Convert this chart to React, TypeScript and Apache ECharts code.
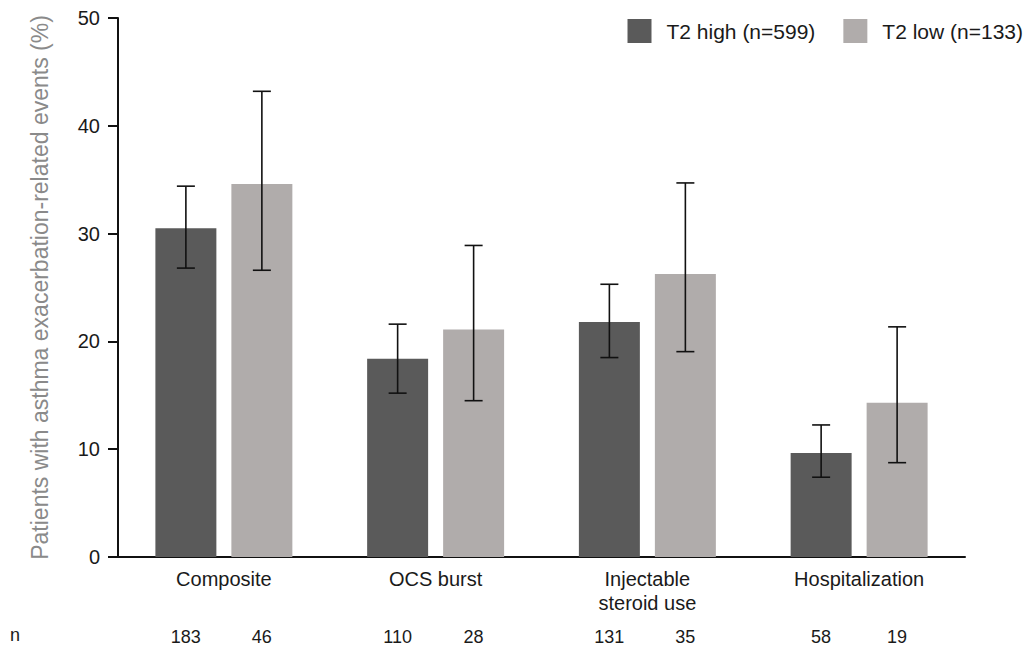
import React, { useEffect, useRef } from "react";
import * as echarts from "echarts";

const categories = ["Composite", "OCS burst", "Injectable\nsteroid use", "Hospitalization"];
const seriesNames = ["T2 high (n=599)", "T2 low (n=133)"];
const highValues = [30.5, 18.4, 21.8, 9.65];
const highLow = [26.8, 15.2, 18.5, 7.4];
const highHigh = [34.4, 21.6, 25.3, 12.25];
const lowValues = [34.6, 21.1, 26.25, 14.3];
const lowLow = [26.6, 14.5, 19.05, 8.75];
const lowHigh = [43.2, 28.9, 34.7, 21.35];
const highN = ["183", "110", "131", "58"];
const lowN = ["46", "28", "35", "19"];
const yTicks = [0, 10, 20, 30, 40, 50];

const DARK = "#5a5a5a";
const LIGHT = "#b0acab";
const BAR_W = 0.288;
const BAR_GAP = 0.246;
const FONT = "Liberation Sans, Arial, sans-serif";

export default function App() {
  const ref = useRef<HTMLDivElement>(null);
  useEffect(() => {
    if (!ref.current) return;
    const chart = echarts.init(ref.current, undefined, { renderer: "svg" });
    const offsetFrac = (BAR_W * (1 + BAR_GAP)) / 2;

    const errSeries = (lows: number[], highs: number[], sign: number) => ({
      type: "custom",
      silent: true,
      z: 5,
      data: lows.map((l, i) => [i, l, highs[i]]),
      renderItem: (params: any, api: any) => {
        const idx = api.value(0);
        const band = api.size([1, 0])[0];
        const pLow = api.coord([idx, api.value(1)]);
        const pHigh = api.coord([idx, api.value(2)]);
        const x = pLow[0] + sign * band * offsetFrac;
        const cap = 9;
        const style = { stroke: "#111", lineWidth: 1.6 };
        return {
          type: "group",
          children: [
            { type: "line", shape: { x1: x, y1: pLow[1], x2: x, y2: pHigh[1] }, style },
            { type: "line", shape: { x1: x - cap, y1: pLow[1], x2: x + cap, y2: pLow[1] }, style },
            { type: "line", shape: { x1: x - cap, y1: pHigh[1], x2: x + cap, y2: pHigh[1] }, style },
          ],
        };
      },
    });

    const nSeries = (labels: string[], sign: number) => ({
      type: "custom",
      silent: true,
      clip: false,
      data: labels.map((l, i) => [i, 0, l]),
      renderItem: (params: any, api: any) => {
        const idx = api.value(0);
        const band = api.size([1, 0])[0];
        const p = api.coord([idx, 0]);
        const x = p[0] + sign * band * offsetFrac;
        return {
          type: "text",
          style: {
            x,
            y: p[1] + 80,
            text: labels[idx],
            fill: "#1a1a1a",
            font: `18px ${FONT}`,
            align: "center",
            verticalAlign: "middle",
          },
        };
      },
    });

    chart.setOption({
      animation: false,
      textStyle: { fontFamily: FONT },
      grid: { left: 118, right: 63, top: 18, bottom: 91, containLabel: false },
      legend: {
        data: seriesNames,
        right: 0,
        top: 14,
        icon: "rect",
        itemWidth: 24,
        itemHeight: 24,
        itemGap: 28,
        textStyle: { fontSize: 21, color: "#1a1a1a", padding: [0, 0, 0, 10], fontFamily: FONT },
      },
      xAxis: {
        type: "category",
        data: categories,
        axisLine: { lineStyle: { color: "#111", width: 2 } },
        axisTick: { show: false },
        axisLabel: { color: "#1a1a1a", fontSize: 20, margin: 10, lineHeight: 24, fontFamily: FONT },
      },
      yAxis: {
        type: "value",
        min: yTicks[0],
        max: yTicks[yTicks.length - 1],
        interval: 10,
        splitLine: { show: false },
        axisLine: { show: true, lineStyle: { color: "#111", width: 2 } },
        axisTick: { show: true, length: 10, lineStyle: { color: "#111", width: 2 } },
        axisLabel: { color: "#1a1a1a", fontSize: 20, margin: 18, fontFamily: FONT },
        name: "Patients with asthma exacerbation-related events (%)",
        nameLocation: "middle",
        nameGap: 67,
        nameTextStyle: { color: "#8a8a8a", fontSize: 23, fontFamily: FONT },
      },
      series: [
        {
          name: seriesNames[0],
          type: "bar",
          data: highValues,
          barWidth: `${BAR_W * 100}%`,
          barGap: `${BAR_GAP * 100}%`,
          itemStyle: { color: DARK },
        },
        {
          name: seriesNames[1],
          type: "bar",
          data: lowValues,
          barWidth: `${BAR_W * 100}%`,
          barGap: `${BAR_GAP * 100}%`,
          itemStyle: { color: LIGHT },
        },
        errSeries(highLow, highHigh, -1),
        errSeries(lowLow, lowHigh, 1),
        nSeries(highN, -1),
        nSeries(lowN, 1),
      ],
      graphic: [
        {
          type: "text",
          left: 10,
          top: 626,
          style: { text: "n", fill: "#1a1a1a", font: `18px ${FONT}` },
        },
      ],
    });
    return () => chart.dispose();
  }, []);
  return <div ref={ref} style={{ width: 1028, height: 648, position: "absolute", left: 0, top: 0 }} />;
}
